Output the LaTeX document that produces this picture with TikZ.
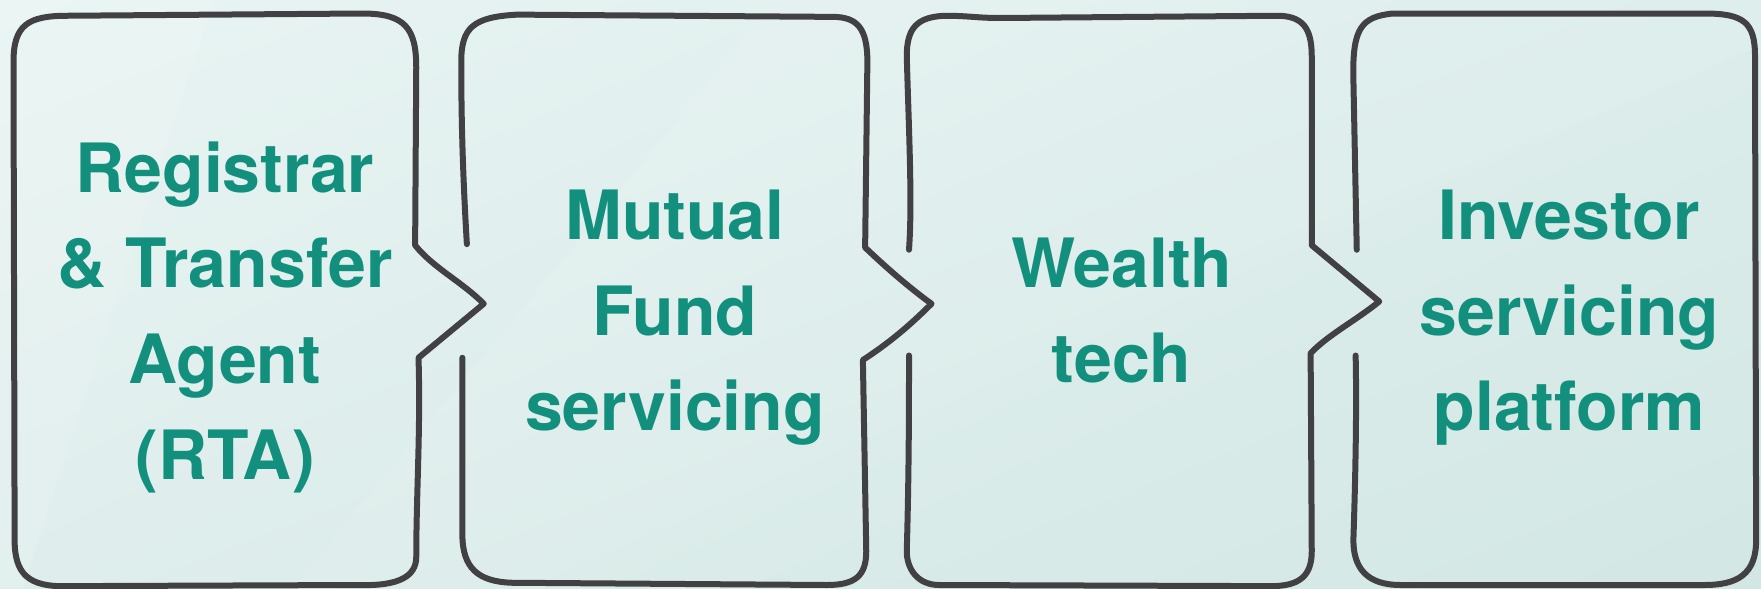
\documentclass[tikz,border=0pt]{standalone}
\usepackage{fontspec}
\setmainfont{TeX Gyre Heros}
\usetikzlibrary{shadings}
\definecolor{tealtext}{HTML}{138F7E}
\definecolor{strokegray}{HTML}{414143}
\definecolor{bgA}{HTML}{E8F4F3}
\definecolor{bgB}{HTML}{DCEDEB}
\definecolor{bgC}{HTML}{DFEEEC}
\definecolor{bgD}{HTML}{D2E7E4}
\tikzset{
  sketch/.style={draw=strokegray, line width=6pt, line cap=round, line join=round},
  boxtext/.style={text=tealtext, font=\fontsize{68}{95.6}\selectfont\bfseries, align=center, inner sep=0pt},
}
\begin{document}
\begin{tikzpicture}[x=1.125pt,y=-1.125pt]
\useasboundingbox (0,0) rectangle (1565.33,522.67);
\shade[upper left=bgA, upper right=bgB, lower left=bgC, lower right=bgD] (0,0) rectangle (1565.33,522.67);
\fill[white, opacity=0.12] (0,0) -- (190,0) -- (20,522.67) -- (0,522.67) -- cycle;
\fill[white, opacity=0.07] (690,0) -- (1565.33,0) -- (1565.33,40) -- (470,522.67) -- (260,522.67) -- cycle;

% box 1
\draw[sketch] (13,480) -- (12,55) .. controls (12,22) and (25,14) .. (60,14) -- (322,12)
  .. controls (360,12) and (370,25) .. (370,60) -- (369,218)
  .. controls (385,238) and (410,250) .. (430,270) -- (372,318)
  .. controls (374,380) and (370,440) .. (370,495)
  .. controls (370,512) and (355,521) .. (320,520) -- (60,521)
  .. controls (25,522) and (13,510) .. (13,480) -- cycle;
% box 2
\draw[sketch] (415,217) .. controls (411,150) and (410,100) .. (410,55)
  .. controls (410,25) and (420,15) .. (460,13) -- (740,15)
  .. controls (762,15) and (771,25) .. (771,55) -- (769,220)
  .. controls (790,240) and (810,257) .. (828,270)
  .. controls (808,290) and (790,305) .. (767,320) -- (770,490)
  .. controls (770,512) and (760,520) .. (735,520) -- (455,518)
  .. controls (425,517) and (411,505) .. (411,475) -- (411,318);
% box 3
\draw[sketch] (808,222) .. controls (811,180) and (808,120) .. (806,50)
  .. controls (806,25) and (815,15) .. (840,14)
  .. controls (860,14) and (870,16) .. (888,16) -- (1135,14)
  .. controls (1158,14) and (1166,25) .. (1166,50) -- (1166,218)
  -- (1226,268)
  .. controls (1205,285) and (1180,298) .. (1165,314) -- (1166,490)
  .. controls (1166,512) and (1155,521) .. (1130,521) -- (835,520)
  .. controls (815,520) and (806,505) .. (806,490)
  .. controls (808,420) and (808,360) .. (808,316);
% box 4
\draw[sketch] (1206,222) -- (1203,70) .. controls (1202,25) and (1210,15) .. (1238,12)
  -- (1515,12) .. controls (1550,12) and (1560,20) .. (1560,50) -- (1561,480)
  .. controls (1561,510) and (1545,520) .. (1515,520) -- (1245,520)
  .. controls (1215,520) and (1203,505) .. (1203,480)
  .. controls (1205,420) and (1206,360) .. (1205,316);

\node[boxtext] (rta) at (200,282) {Registrar\\\& Transfer\\Agent\\(RTA)};
\node[boxtext] (mf) at (600,282.6) {Mutual\\Fund\\servicing};
\node[boxtext] (wt) at (997,276) {Wealth\\tech};
\node[boxtext] (isp) at (1395,282.6) {Investor\\servicing\\platform};
\end{tikzpicture}
\end{document}
